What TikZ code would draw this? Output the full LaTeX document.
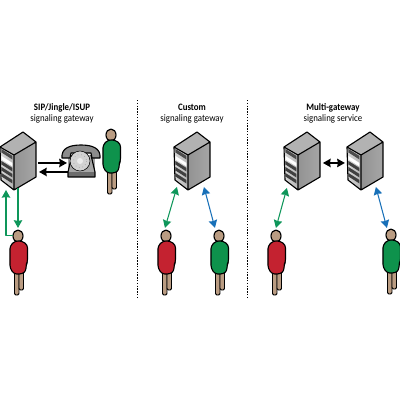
\documentclass[tikz,border=0pt]{standalone}
\usepackage{fontspec}
\usetikzlibrary{arrows.meta}
\setmainfont[FakeStretch=0.9]{Carlito}
\definecolor{mangreen}{RGB}{14,146,76}
\definecolor{manred}{RGB}{196,34,48}
\definecolor{linkgreen}{RGB}{14,150,90}
\definecolor{linkblue}{RGB}{24,112,184}
\definecolor{skin}{RGB}{186,156,130}
\tikzset{
	link/.style={line width=0.75pt,>={Stealth[length=5.5pt,width=6pt,inset=0.5pt]}},
	blacklink/.style={link,line width=1pt},
	titletext/.style={font=\fontsize{7}{8}\selectfont,inner sep=0pt,align=center},
	pics/serverbox/.style={code={
		\fill [gray!60] (0,15)--(23,0)--(36,10)--(14,23)--cycle;
		\shade [left color=gray!30,right color=gray!60] (0,15)--(14,23)--(14,58)--(1,48)--cycle;
		\shade [left color=gray!85,right color=gray!70] (14,23)--(36,10)--(36,45)--(14,58)--cycle;
		\foreach \y/\c in {17/black!70,24/white,29/black!75,35/black!75,41/black!75}{
			\fill [\c] (1.5,\y)--(12.5,\y+7)--(12.5,\y+10.5)--(1.5,\y+3.5)--cycle;
		}
		\draw [line width=0.8pt,line join=round] (0,15)--(23,0)--(36,10)--(36,45)--(14,58)--(1,48)--cycle (0,15)--(14,23)--(36,10) (14,23)--(14,58);
	}},
	pics/person/.style={code={
		\draw [line width=0.7pt,fill=skin,rounded corners=1pt] (-3.5,30)--(-3.5,59)--(1,59)--(1,30)--cycle;
		\draw [line width=0.7pt,fill=skin,rounded corners=1pt] (1,30)--(1,54)--(5.5,54)--(5.5,30)--cycle;
		\draw [line width=0.8pt,fill=skin] (0,0) ellipse (5 and 6);
		\draw [line width=0.8pt,fill=#1,rounded corners=2pt] (-3,5)--(-8,10)--(-8,32)--(-4,38)--(4,38)--(8,35)--(8,29)--(9.5,26)--(9.5,9)--(4,5)--cycle;
	}}
}
\begin{document}
\begin{tikzpicture}[scale=0.025,yscale=-1,>=stealth,line join=round,font=\footnotesize]
	\useasboundingbox (0,0) rectangle (400,400);
	% titles
	\node [titletext] (titlesip) at (62,113.5) {\textbf{SIP/Jingle/ISUP}\\signaling gateway};
	\node [titletext] (titlecustom) at (192,113.5) {\textbf{Custom}\\signaling gateway};
	\node [titletext] (titlemulti) at (333,113.5) {\textbf{Multi-gateway}\\signaling service};
	% separators
	\foreach \x in {137,247}{
		\draw [line width=0.7pt,dash pattern=on 1pt off 1pt] (\x,100)--(\x,297);
	}
	% servers
	\foreach \x/\y in {0/sipgw,174/customgw,284/multigwa,347/multigwb}{
		\pic [transform shape] (\y) at (\x,132) {serverbox};
	}
	% people
	\foreach \x/\y/\z/\c in {18/236/sipcaller/manred,111/135/phoneuser/mangreen,166/236/customred/manred,219/236/customgreen/mangreen,276/236/multired/manred,391/235/multigreen/mangreen}{
		\pic [transform shape] (\z) at (\x,\y) {person=\c};
	}
	% telephone
	\fill [gray!70] (68,155)--(95,155)--(95,177)--(68,177)--cycle;
	\fill [gray!85!black] (68,172)--(95,172)--(95,177)--(68,177)--cycle;
	\draw [line width=0.8pt] (72,155)--(68,172)--(68,177)--(95,177)--(95,172)--(91,155);
	\draw [line width=0.8pt,fill=gray!90] (62,158) .. controls (61,148) and (70,145) .. (81,145) .. controls (92,145) and (101,148) .. (100,158)--(92,158)--(91,153)--(71,153)--(70,158)--cycle;
	\draw [line width=0.4pt,fill=gray!35] (80,161) circle (10);
	\draw [line width=0.5pt,gray!70,dotted] (80,161) circle (6.5);
	\fill [gray!15] (80,161) circle (3);
	% connector ends
	\path (38,163) coordinate (sipout) (67,163) coordinate (phonein)
		(68,172) coordinate (phoneout) (39,172) coordinate (sipin)
		(6,190) coordinate (sipup) (6,236) coordinate (sipcorner) (13,236) coordinate (callerside)
		(18,188) coordinate (sipdown) (18,228) coordinate (callertop)
		(177,187) coordinate (customa) (165,228) coordinate (customb)
		(204,187) coordinate (customc) (215,228) coordinate (customd)
		(323,163) coordinate (multia) (345,163) coordinate (multib)
		(287,188) coordinate (multic) (276,228) coordinate (multid)
		(376,187) coordinate (multie) (387,228) coordinate (multif);
	% connectors
	\draw [blacklink,->] (sipout)--(phonein);
	\draw [blacklink,->] (phoneout)--(sipin);
	\draw [blacklink,<->] (multia)--(multib);
	\draw [link,linkgreen,->] (callerside)--(sipcorner)--(sipup);
	\draw [link,linkgreen,->] (sipdown)--(callertop);
	\foreach \a/\b/\c in {customa/customb/linkgreen,customc/customd/linkblue,multic/multid/linkgreen,multie/multif/linkblue}{
		\draw [link,\c,<->] (\a)--(\b);
	}
\end{tikzpicture}
\end{document}
